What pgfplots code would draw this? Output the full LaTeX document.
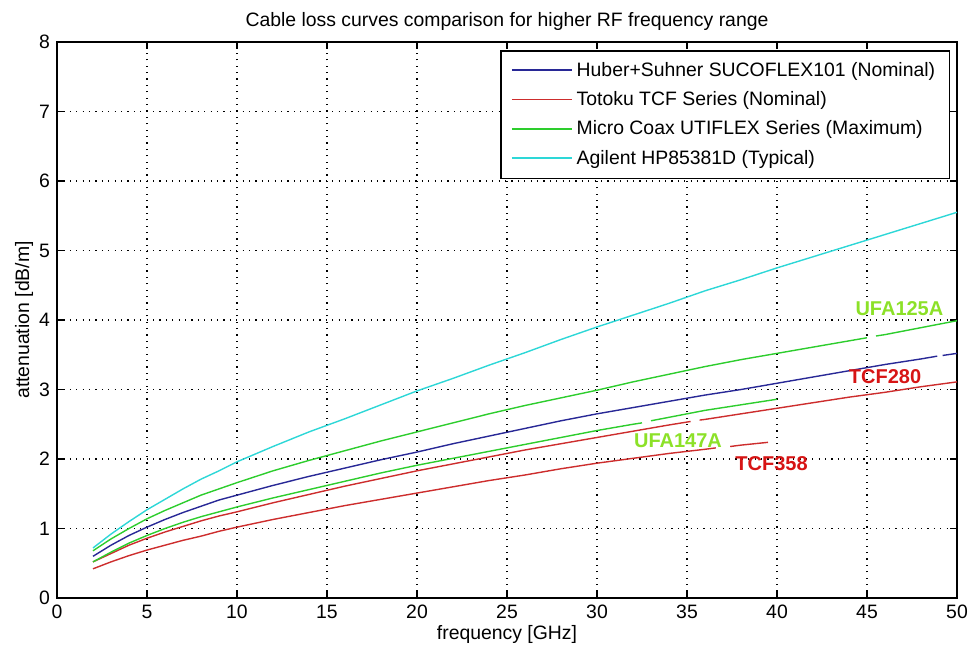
\documentclass[border=0pt]{standalone}
\usepackage{fontspec}
\setmainfont{Liberation Sans}
\usepackage{pgfplots}
\pgfplotsset{compat=1.18}
\definecolor{cblue}{RGB}{40,40,150}
\definecolor{cred}{RGB}{205,45,45}
\definecolor{cgreen}{RGB}{45,205,45}
\definecolor{ccyan}{RGB}{45,215,215}
\definecolor{lgreen}{RGB}{140,225,40}
\definecolor{lred}{RGB}{215,20,20}
\begin{document}
\begin{tikzpicture}
\useasboundingbox (-28.5pt,-28.5pt) rectangle (458pt,299pt);
\begin{axis}[
  at={(0,0)}, anchor=south west,
  scale only axis, width=450pt, height=278pt,
  xmin=0, xmax=50, ymin=0, ymax=8,
  xtick={0,5,...,50}, ytick={0,1,...,8},
  tick align=inside, major tick length=3.5pt,
  xtick pos=both, ytick pos=both,
  grid=major,
  major grid style={black, line width=0.6pt, dash pattern=on 0.6pt off 2.6pt},
  axis line style={black, line width=0.6pt},
  tick style={black, line width=0.6pt},
  /pgf/number format/assume math mode=true,
  tick label style={font=\fontsize{9.7}{11}\selectfont},
  label style={font=\fontsize{9.7}{11}\selectfont},
  title style={font=\fontsize{9.7}{11}\selectfont, at={(axis description cs:0.5,1)}, anchor=base, yshift=2pt},
  title={Cable loss curves comparison for higher RF frequency range},
  xlabel={frequency [GHz]},
  ylabel={attenuation [dB/m]},
  xlabel style={at={(axis description cs:0.5,-0.0755)}, anchor=base},
  ylabel style={at={(axis description cs:-0.031,0.5)}, anchor=base, rotate=0},
  legend style={at={(rel axis cs:0.992,0.985)}, anchor=north east, draw=black, line width=0.6pt,
    font=\fontsize{9.7}{11}\selectfont, inner xsep=5pt, inner ysep=3.5pt, row sep=2.2pt},
  legend cell align=left,
  legend image code/.code={\draw[#1, line width=0.8pt] (-1pt,0.3pt) -- (29pt,0.3pt);},
  every axis plot/.append style={line width=0.7pt},
]
% Huber+Suhner (blue)
\addplot[cblue] coordinates {
(2,0.60) (3,0.76) (4,0.90) (5,1.02) (6,1.13) (7,1.23) (8,1.32) (9,1.41) (10,1.48)
(12,1.62) (14,1.75) (16,1.87) (18,1.99) (20,2.10) (22,2.22) (24,2.33) (26,2.44)
(28,2.55) (30,2.65) (32,2.74) (34,2.83) (36,2.92) (38,3.00) (40,3.09) (42,3.18)
(44,3.27) (46,3.36) (48,3.44) (48.9,3.48)};
\addlegendentry{Huber+Suhner SUCOFLEX101 (Nominal)}
% Totoku TCF280 (red upper)
\addplot[cred] coordinates {
(2,0.52) (3,0.64) (4,0.76) (5,0.86) (6,0.95) (7,1.03) (8,1.11) (9,1.18) (10,1.24)
(12,1.37) (14,1.49) (16,1.61) (18,1.72) (20,1.83) (22,1.93) (24,2.03) (26,2.13)
(28,2.22) (30,2.31) (32,2.40) (34,2.49) (35.2,2.54)};
\addlegendentry{Totoku TCF Series (Nominal)}
% UFA125A (green upper)
\addplot[cgreen] coordinates {
(2,0.68) (3,0.85) (4,1.00) (5,1.14) (6,1.26) (7,1.37) (8,1.48) (9,1.57) (10,1.66)
(12,1.83) (14,1.98) (16,2.12) (18,2.26) (20,2.39) (22,2.52) (24,2.65) (26,2.77)
(28,2.88) (30,2.99) (32,3.11) (34,3.22) (36,3.33) (38,3.43) (40,3.52) (42,3.61)
(44,3.70) (45,3.745)};
\addlegendentry{Micro Coax UTIFLEX Series (Maximum)}
% Agilent (cyan)
\addplot[ccyan] coordinates {
(2,0.72) (3,0.92) (4,1.10) (5,1.27) (6,1.42) (7,1.57) (8,1.71) (9,1.83) (10,1.96)
(12,2.18) (14,2.39) (16,2.58) (18,2.78) (20,2.98) (22,3.16) (24,3.35) (26,3.53)
(28,3.72) (30,3.90) (32,4.07) (34,4.24) (36,4.42) (38,4.58) (40,4.75) (42,4.91)
(44,5.07) (46,5.23) (48,5.39) (50,5.55)};
\addlegendentry{Agilent HP85381D (Typical)}
% remaining segments
\addplot[cblue, forget plot] coordinates {(49.2,3.49) (50,3.52)};
\addplot[cred, forget plot] coordinates {
(35.7,2.56) (36,2.57) (38,2.65) (40,2.73) (42,2.81) (44,2.89) (46,2.96) (48,3.04) (50,3.11)};
\addplot[cgreen, forget plot] coordinates {(45.5,3.77) (46,3.79) (48,3.89) (50,3.99)};
% UFA147A (green lower)
\addplot[cgreen, forget plot] coordinates {
(2,0.52) (3,0.66) (4,0.79) (5,0.90) (6,1.00) (7,1.09) (8,1.17) (9,1.24) (10,1.31)
(12,1.44) (14,1.56) (16,1.68) (18,1.80) (20,1.91) (22,2.01) (24,2.11) (26,2.21)
(28,2.31) (30,2.41) (32,2.50) (32.5,2.52)};
\addplot[cgreen, forget plot] coordinates {
(33,2.55) (34,2.60) (36,2.70) (38,2.78) (40,2.86)};
% TCF358 (red lower)
\addplot[cred, forget plot] coordinates {
(2,0.42) (3,0.52) (4,0.61) (5,0.69) (6,0.76) (7,0.83) (8,0.89) (9,0.96) (10,1.02)
(12,1.13) (14,1.23) (16,1.33) (18,1.42) (20,1.51) (22,1.60) (24,1.69) (26,1.77)
(28,1.86) (30,1.94) (32,2.01) (34,2.08) (36,2.14) (36.6,2.16)};
\addplot[cred, forget plot] coordinates {(37.4,2.18) (38,2.20) (39.5,2.24)};
\node[font=\bfseries\fontsize{10}{12}\selectfont, text=lgreen] at (axis cs:46.8,4.17) {UFA125A};
\node[font=\bfseries\fontsize{10}{12}\selectfont, text=lred] at (axis cs:46.0,3.19) {TCF280};
\node[font=\bfseries\fontsize{10}{12}\selectfont, text=lgreen] at (axis cs:34.5,2.27) {UFA147A};
\node[font=\bfseries\fontsize{10}{12}\selectfont, text=lred] at (axis cs:39.7,1.94) {TCF358};
\end{axis}
\end{tikzpicture}
\end{document}
